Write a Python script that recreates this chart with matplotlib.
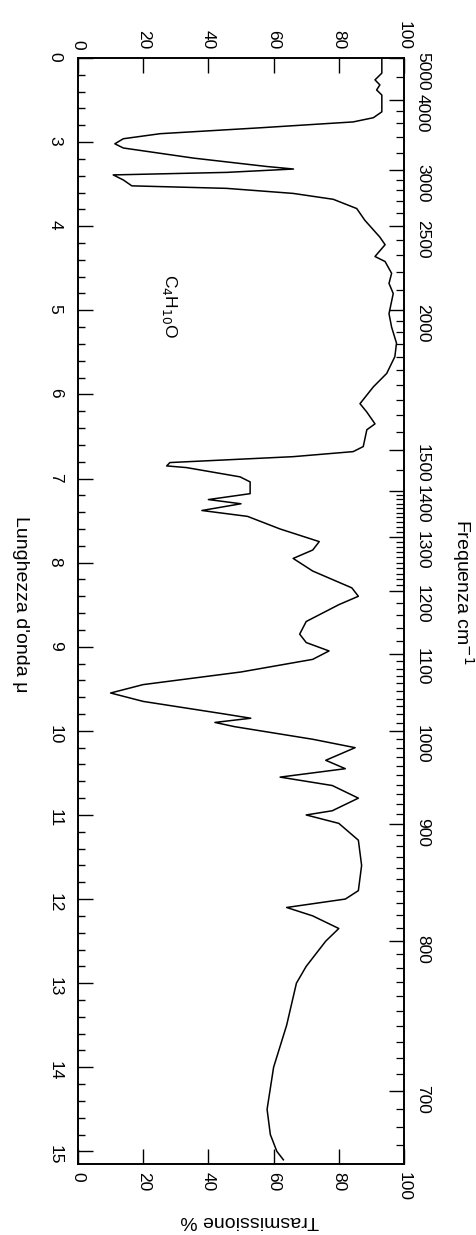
import numpy as np
import matplotlib
matplotlib.use("Agg")
import matplotlib.pyplot as plt
from matplotlib.ticker import MultipleLocator, FixedLocator, FixedFormatter

plt.rcParams['font.family'] = ['Liberation Sans', 'DejaVu Sans']

# ── spectrum: wavelength (μm) vs transmission (%) ──
WAVELENGTH = [
    2.00, 2.18, 2.26, 2.32, 2.38, 2.44, 2.64, 2.71, 2.76, 2.83, 2.90, 2.96,
    3.02, 3.07, 3.19, 3.29, 3.32, 3.36, 3.39, 3.45, 3.52, 3.55, 3.61, 3.68,
    3.79, 3.93, 4.13, 4.22, 4.36, 4.42, 4.56, 4.68, 4.80, 5.04, 5.20, 5.39,
    5.55, 5.75, 5.91, 6.11, 6.21, 6.35, 6.42, 6.62, 6.68, 6.74, 6.81, 6.85,
    6.87, 6.98, 7.04, 7.18, 7.25, 7.30, 7.38, 7.45, 7.60, 7.75, 7.85, 7.95,
    8.10, 8.30, 8.40, 8.50, 8.70, 8.85, 8.95, 9.05, 9.15, 9.30, 9.45, 9.55,
    9.65, 9.80, 9.85, 9.90, 9.95, 10.10, 10.20, 10.35, 10.45, 10.55, 10.65,
    10.80, 10.95, 11.00, 11.10, 11.30, 11.60, 11.90, 12.00, 12.10, 12.20,
    12.35, 12.50, 12.80, 13.00, 13.50, 14.00, 14.50, 14.80, 15.00, 15.10,
]
TRANSMISSION = [
    93.2, 93.2, 91.1, 92.6, 91.6, 93.2, 93.2, 90.6, 84.4, 55.8, 25.2, 13.9,
    11.3, 13.9, 35.4, 57.9, 66.1, 45.6, 10.8, 13.9, 16.5, 45.6, 66.0, 78.3,
    85.5, 88.0, 92.6, 94.2, 91.1, 94.2, 96.2, 95.4, 96.7, 95.4, 96.2, 97.7,
    97.2, 94.7, 90.6, 86.5, 88.6, 91.1, 88.6, 87.5, 84.4, 66.0, 28.2, 27.2,
    33.3, 49.7, 52.8, 52.8, 40.0, 50.0, 38.0, 52.0, 62.0, 74.0, 72.0, 66.0,
    72.0, 84.0, 86.0, 80.0, 70.0, 68.0, 70.0, 77.0, 72.0, 50.0, 20.0, 10.0,
    20.0, 45.0, 53.0, 42.0, 48.0, 72.0, 85.0, 76.0, 82.0, 62.0, 78.0,
    86.0, 78.0, 70.0, 80.0, 86.0, 87.0, 86.0, 82.0, 64.0, 72.0,
    80.0, 76.0, 70.0, 67.0, 64.0, 60.0, 58.0, 59.0, 61.0, 63.0,
]

T_TICKS = [0, 20, 40, 60, 80, 100]
WL_TICKS = [2, 3, 4, 5, 6, 7, 8, 9, 10, 11, 12, 13, 14, 15]
WL_LABELS = ["0", "3", "4", "5", "6", "7", "8", "9", "10", "11", "12", "13", "14", "15"]
FREQ_TICKS = [5000, 4000, 3000, 2500, 2000, 1500, 1400, 1300, 1200, 1100, 1000, 900, 800, 700]
FREQ_MINOR = (list(range(4500, 4000, -500)) + list(range(3800, 3000, -200))
              + list(range(2900, 2000, -100)) + list(range(1950, 1400, -50))
              + list(range(1390, 1200, -10)) + list(range(1180, 1100, -20))
              + list(range(1090, 660, -10)))


def main():
    fig = plt.figure(figsize=(4.76, 12.35), dpi=100)
    ax = fig.add_axes([78 / 476, 1 - 1164 / 1235, 326 / 476, 1106 / 1235])

    ax.plot(TRANSMISSION, WAVELENGTH, color="black", lw=1.1)
    ax.set_xlim(0, 100)
    ax.set_ylim(15.15, 2)

    for s in ax.spines.values():
        s.set_linewidth(1.2)

    # transmission axis, top and bottom
    ax.set_xticks(T_TICKS)
    ax.tick_params(axis="x", direction="in", length=11, width=1, top=True, bottom=True,
                   labeltop=True, labelbottom=True, labelrotation=-90, labelsize=12.5, pad=6)

    # wavelength axis, left
    ax.set_yticks(WL_TICKS)
    ax.set_yticklabels(WL_LABELS)
    ax.yaxis.set_minor_locator(MultipleLocator(0.2))
    ax.tick_params(axis="y", which="major", direction="in", length=11, width=1,
                   labelrotation=-90, labelsize=12.5, pad=11)
    ax.tick_params(axis="y", which="minor", direction="in", length=5, width=1)

    # frequency axis, right (cm-1 = 1e4 / μm)
    ax2 = ax.twinx()
    ax2.set_ylim(15.15, 2)
    ax2.yaxis.set_major_locator(FixedLocator([1e4 / f for f in FREQ_TICKS]))
    ax2.yaxis.set_major_formatter(FixedFormatter([str(f) for f in FREQ_TICKS]))
    ax2.yaxis.set_minor_locator(FixedLocator([1e4 / f for f in FREQ_MINOR]))
    ax2.tick_params(axis="y", which="major", direction="in", length=11, width=1,
                    labelrotation=-90, labelsize=12.5, pad=8)
    ax2.tick_params(axis="y", which="minor", direction="in", length=5.5, width=0.9)
    for s in ax2.spines.values():
        s.set_linewidth(1.2)

    ax.text(28, 4.95, r"C$_4$H$_{10}$O", rotation=-90, fontsize=12.5,
            ha="center", va="center")

    fig.text(20 / 476, 1 - 604 / 1235, "Lunghezza d'onda μ", rotation=-90,
             fontsize=14, ha="center", va="center")
    fig.text(463 / 476, 1 - 592 / 1235, "Frequenza cm$^{-1}$", rotation=-90,
             fontsize=14, ha="center", va="center")
    fig.text(250 / 476, 1 - 1221 / 1235, "Trasmissione %", rotation=180,
             fontsize=14, ha="center", va="center")

    fig.savefig("out.png", dpi=100, facecolor="white")


if __name__ == "__main__":
    main()
